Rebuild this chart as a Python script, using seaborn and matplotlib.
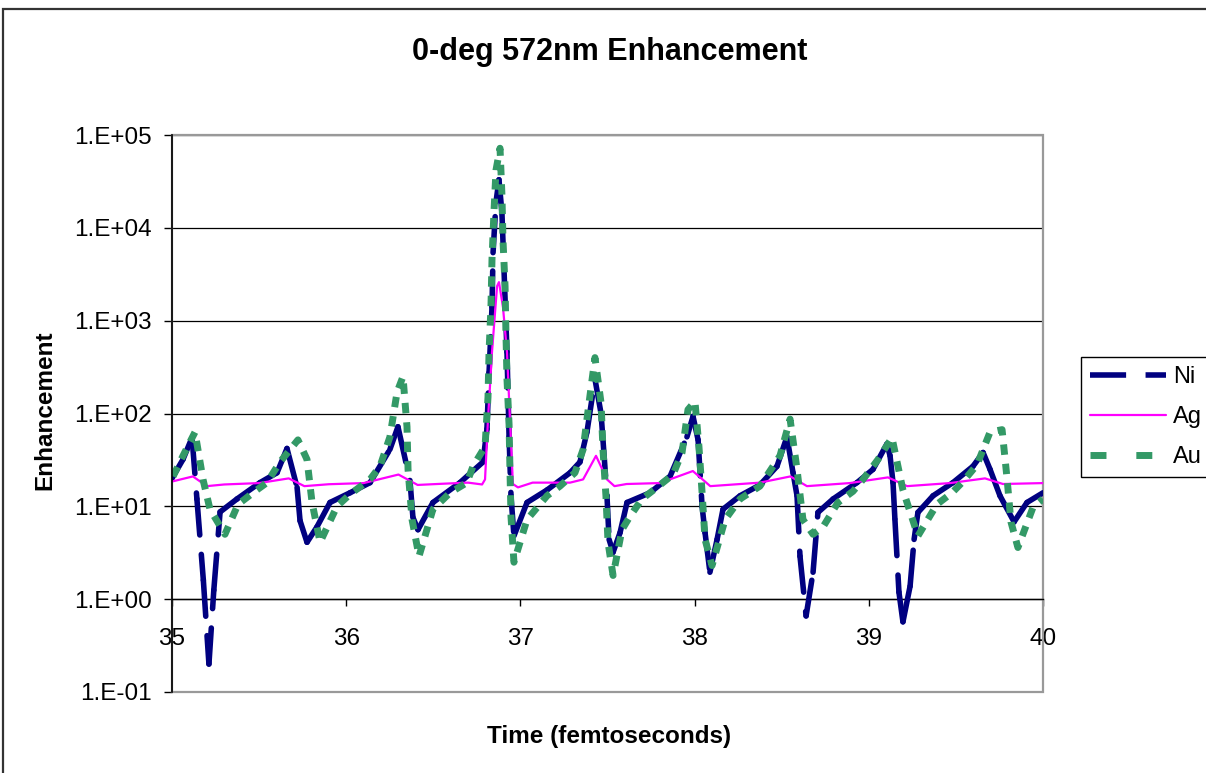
import pandas as pd
import matplotlib
matplotlib.use('Agg')
import matplotlib.pyplot as plt
from matplotlib.patches import Rectangle
from matplotlib.lines import Line2D
from matplotlib.ticker import FixedLocator, NullLocator, FixedFormatter
import seaborn as sns

# Values (time in fs, enhancement)
ni_t = [35.00, 35.063, 35.115, 35.143, 35.18, 35.212, 35.24, 35.276, 35.373, 35.505,
        35.603, 35.66, 35.718, 35.735, 35.775, 35.832, 35.907, 36.022, 36.137, 36.251,
        36.297, 36.366, 36.383, 36.412, 36.498, 36.653, 36.785, 36.808, 36.82, 36.837,
        36.843, 36.86, 36.877, 36.894, 36.906, 36.923, 36.935, 36.946, 36.963, 37.038,
        37.153, 37.285, 37.342, 37.382, 37.428, 37.463, 37.474, 37.497, 37.509, 37.532,
        37.572, 37.612, 37.744, 37.859, 37.956, 37.991, 38.02, 38.043, 38.06, 38.088,
        38.129, 38.163, 38.261, 38.375, 38.473, 38.53, 38.565, 38.588, 38.605, 38.64,
        38.68, 38.708, 38.795, 38.932, 39.024, 39.104, 39.122, 39.139, 39.15, 39.173,
        39.196, 39.237, 39.26, 39.282, 39.369, 39.483, 39.598, 39.656, 39.696, 39.753,
        39.834, 39.908, 40.0]
ni_v = [20, 32, 55, 12, 1.6, 0.2, 1.25, 8.7, 12, 18,
        23, 42, 16, 7, 4.1, 6, 11, 14, 18, 41,
        72, 19, 7.6, 5.6, 11, 18, 30, 68, 275, 1400,
        5400, 19000, 33000, 14500, 3500, 460, 56, 13, 4.8, 11,
        15, 23, 30, 63, 235, 100, 52, 13, 4.4, 3.2,
        5.2, 11, 14, 21, 56, 93, 52, 10, 5.2, 1.95,
        4.4, 9.3, 13, 17, 27, 56, 23, 13, 2.9, 0.66,
        1.95, 8.6, 12, 18, 25, 47, 35, 18, 7.2, 1.19,
        0.57, 1.38, 4.4, 8.6, 13, 18, 27, 38, 25, 13,
        6.8, 11, 14]

ag_t = [35.00, 35.12, 35.20, 35.30, 35.50, 35.67, 35.76, 35.90, 36.10, 36.30,
        36.41, 36.55, 36.70, 36.78, 36.797, 36.814, 36.837, 36.866, 36.877, 36.90,
        36.923, 36.94, 36.957, 36.986, 37.07, 37.285, 37.36, 37.434, 37.497, 37.54,
        37.61, 37.80, 37.99, 38.09, 38.375, 38.55, 38.645, 38.89, 39.11, 39.22,
        39.466, 39.667, 39.77, 40.0]
ag_v = [18.5, 21, 16.5, 17.2, 17.8, 20, 16.5, 17.3, 17.8, 22,
        17, 17.5, 18, 17.2, 19.5, 87, 460, 2350, 2600, 1400,
        460, 87, 17.4, 16, 18, 18, 19.5, 35, 19.5, 16.5,
        17.4, 17.8, 24, 16.5, 18, 21, 16.5, 17.8, 20.5, 16.5,
        17.8, 20, 17.4, 17.8]

au_t = [35.006, 35.063, 35.132, 35.178, 35.218, 35.304, 35.379, 35.476, 35.545, 35.62,
        35.723, 35.775, 35.804, 35.85, 35.947, 36.022, 36.137, 36.194, 36.251, 36.292,
        36.326, 36.349, 36.355, 36.378, 36.418, 36.498, 36.596, 36.693, 36.728, 36.797,
        36.814, 36.82, 36.831, 36.837, 36.848, 36.86, 36.883, 36.894, 36.90, 36.912,
        36.917, 36.923, 36.935, 36.94, 36.946, 36.963, 37.038, 37.153, 37.227, 37.313,
        37.36, 37.394, 37.428, 37.463, 37.474, 37.491, 37.503, 37.532, 37.583, 37.629,
        37.698, 37.784, 37.876, 37.928, 37.962, 38.002, 38.025, 38.043, 38.06, 38.10,
        38.175, 38.261, 38.375, 38.49, 38.548, 38.588, 38.622, 38.68, 38.737, 38.823,
        38.909, 38.967, 39.053, 39.133, 39.196, 39.282, 39.391, 39.478, 39.541, 39.621,
        39.696, 39.765, 39.793, 39.816, 39.856, 39.943, 40.0]
au_v = [21, 35, 63, 19.5, 9.3, 5, 10.5, 14.5, 18, 30,
        52, 32, 11, 4.1, 10, 13.5, 19.5, 27, 56, 170,
        250, 72, 25, 7.2, 2.9, 9.3, 14, 18, 27, 44,
        150, 460, 1400, 4600, 14500, 42000, 72000, 22600, 7400, 2350,
        740, 235, 76, 25, 7.8, 2.5, 7.2, 13, 16.5, 23,
        41, 130, 400, 130, 41, 13, 4.1, 1.8, 5.6, 7.8,
        12, 16, 22, 38, 110, 135, 44, 14, 4.4, 2.3,
        7.2, 12, 16.5, 35, 87, 25, 7.2, 5, 6, 11,
        14.5, 19.5, 32, 55, 15, 4.8, 10.5, 14, 18.5, 28,
        63, 67, 20.5, 6.8, 3.6, 9.8, 12]

y_ticks = [0.1, 1, 10, 100, 1000, 10000, 100000]
y_labels = ['1.E-01', '1.E+00', '1.E+01', '1.E+02', '1.E+03', '1.E+04', '1.E+05']
x_ticks = [35, 36, 37, 38, 39, 40]

ni_color = '#000080'
ag_color = '#FF00FF'
au_color = '#339966'

sns.set_style('white')
plt.rcParams['font.family'] = ['Liberation Sans', 'DejaVu Sans']
plt.rcParams.update({'text.color': 'black', 'axes.labelcolor': 'black',
                     'xtick.color': 'black', 'ytick.color': 'black'})

W, H = 1206, 773
fig = plt.figure(figsize=(W / 100, H / 100), dpi=100)
ax = fig.add_axes([172 / W, 1 - 692 / H, (1043 - 172) / W, (692 - 135) / H])
ax.set_yscale('log')

# Ni: Excel restarts the dash on every segment, so draw segments as units
rows = []
for i in range(len(ni_t) - 1):
    rows.append((ni_t[i], ni_v[i], i))
    rows.append((ni_t[i + 1], ni_v[i + 1], i))
ni_df = pd.DataFrame(rows, columns=['t', 'v', 'seg'])

ag_df = pd.DataFrame({'t': ag_t, 'v': ag_v})
au_df = pd.DataFrame({'t': au_t, 'v': au_v})

sns.lineplot(data=ni_df, x='t', y='v', units='seg', estimator=None, color=ni_color,
             lw=4, linestyle=(0, (6.5, 3.5)), dash_capstyle='round', legend=False, ax=ax, zorder=3)
sns.lineplot(data=ag_df, x='t', y='v', color=ag_color, lw=1.6, legend=False, ax=ax, zorder=4)
sns.lineplot(data=au_df, x='t', y='v', color=au_color, lw=5,
             linestyle=(0, (1.5, 1.3)), legend=False, ax=ax, zorder=5)

ax.set_xlim(35, 40)
ax.set_ylim(0.1, 100000)
ax.yaxis.set_major_locator(FixedLocator(y_ticks))
ax.yaxis.set_major_formatter(FixedFormatter(y_labels))
ax.yaxis.set_minor_locator(NullLocator())
ax.set_xticks(x_ticks)
ax.set_xticklabels([str(x) for x in x_ticks])
ax.set_xlabel('')
ax.set_ylabel('')

ax.yaxis.grid(True, color='black', lw=0.9)
ax.xaxis.grid(False)
ax.set_axisbelow(True)

# plot-area border in grey, axis lines in black, x axis crossing at 1
ax.add_patch(Rectangle((0, 0), 1, 1, transform=ax.transAxes, fill=False,
                       edgecolor='#999999', lw=1.6, clip_on=False, zorder=2))
ax.spines['top'].set_visible(False)
ax.spines['right'].set_visible(False)
ax.spines['bottom'].set_position(('data', 1))
ax.spines['bottom'].set_color('black')
ax.spines['bottom'].set_linewidth(1)
ax.spines['left'].set_color('black')
ax.spines['left'].set_linewidth(1.2)
ax.spines['left'].set_zorder(6)

ax.tick_params(axis='x', direction='out', length=5, width=1, pad=16,
               labelsize=17.5, colors='black', bottom=True)
ax.tick_params(axis='y', direction='out', length=5.5, width=1, pad=9,
               labelsize=17.5, colors='black', left=True)

fig.text(610 / W, 1 - 52 / H, '0-deg 572nm Enhancement', ha='center', va='center',
         fontsize=22, fontweight='bold', color='black')
fig.text(609 / W, 1 - 737 / H, 'Time (femtoseconds)', ha='center', va='center',
         fontsize=17.5, fontweight='bold', color='black')
fig.text(45 / W, 1 - 410 / H, 'Enhancement', ha='center', va='center', rotation=90,
         fontsize=17.5, fontweight='bold', color='black')

handles = [
    Line2D([], [], color=ni_color, lw=4, linestyle=(0, (6.5, 3.5))),
    Line2D([], [], color=ag_color, lw=1.6),
    Line2D([], [], color=au_color, lw=5, linestyle=(0, (2.3, 4.3))),
]
leg = fig.legend(handles, ['Ni', 'Ag', 'Au'], loc='upper left',
                 bbox_to_anchor=(1081 / W, 1 - 357 / H), borderaxespad=0,
                 fontsize=17, handlelength=3.2, handletextpad=0.3, labelspacing=0.75,
                 borderpad=0.4, fancybox=False, shadow=False, framealpha=1,
                 edgecolor='black')
leg.get_frame().set_linewidth(1)
for txt in leg.get_texts():
    txt.set_color('black')

# outer chart border
fig.add_artist(Rectangle((3 / W, -0.1), 1.2, 1.1 - 9 / H, transform=fig.transFigure,
                         fill=False, edgecolor='#333333', lw=1.6))

fig.savefig('out.png', dpi=100)
